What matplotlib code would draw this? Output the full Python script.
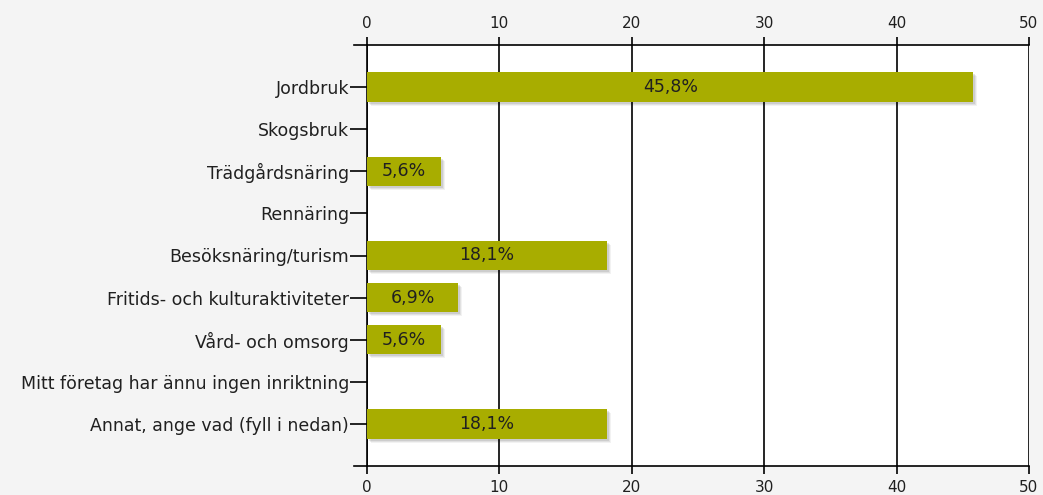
import numpy as np
import matplotlib
matplotlib.use('Agg')
import matplotlib.pyplot as plt
from matplotlib.transforms import offset_copy

categories = ['Jordbruk', 'Skogsbruk', 'Trädgårdsnäring', 'Rennäring',
              'Besöksnäring/turism', 'Fritids- och kulturaktiviteter',
              'Vård- och omsorg', 'Mitt företag har ännu ingen inriktning',
              'Annat, ange vad (fyll i nedan)']
values = [45.8, 0, 5.6, 0, 18.1, 6.9, 5.6, 0, 18.1]
labels = ['45,8%', '', '5,6%', '', '18,1%', '6,9%', '5,6%', '', '18,1%']
xticks = [0, 10, 20, 30, 40, 50]

bar_color = '#a8ad00'
bg = '#f4f4f4'
txt = '#202020'

fig = plt.figure(figsize=(10.43, 4.95), dpi=100, facecolor=bg)
ax = fig.add_axes([367/1043, 1-466/495, (1029-367)/1043, (466-45)/495])
ax.set_facecolor('white')

y = np.arange(len(categories))

# soft shadow behind bars
for i, d in enumerate([(4, -4, 0.10), (3, -3, 0.15), (2, -2, 0.2)]):
    tr = offset_copy(ax.transData, fig=fig, x=d[0], y=d[1], units='dots')
    ax.barh(y, values, height=0.7, color='#808080', alpha=d[2],
            transform=tr, zorder=1)
ax.barh(y, values, height=0.7, color=bar_color, zorder=3)

for yi, v, lab in zip(y, values, labels):
    if lab:
        ax.text(v/2, yi, lab, ha='center', va='center', fontsize=12.5,
                color=txt, zorder=4)

ax.set_xlim(0, 50)
ax.set_ylim(len(categories), -1)
ax.set_xticks(xticks)
ax.grid(axis='x', color='black', linewidth=1.2, zorder=2)
ax.set_axisbelow(False)
for ln in ax.get_xgridlines():
    ln.set_zorder(2)

ax.set_yticks(y)
ax.set_yticklabels(categories, fontsize=12.5, color=txt)
ax.tick_params(axis='y', length=12, width=1.2, color='black', pad=1)
ax.tick_params(axis='x', top=True, labeltop=True, length=6, width=1.2,
               color='black', labelsize=11, labelcolor=txt, pad=4)

ax.spines['right'].set_visible(False)
for s in ['top', 'bottom', 'left']:
    ax.spines[s].set_linewidth(1.2)
    ax.spines[s].set_color('black')

# extend top/bottom axis lines to the left
for yy in [0, 1]:
    ax.plot([-0.02, 0], [yy, yy], transform=ax.transAxes, color='black',
            linewidth=1.2, clip_on=False)

fig.savefig('out.png', dpi=100, facecolor=bg)
